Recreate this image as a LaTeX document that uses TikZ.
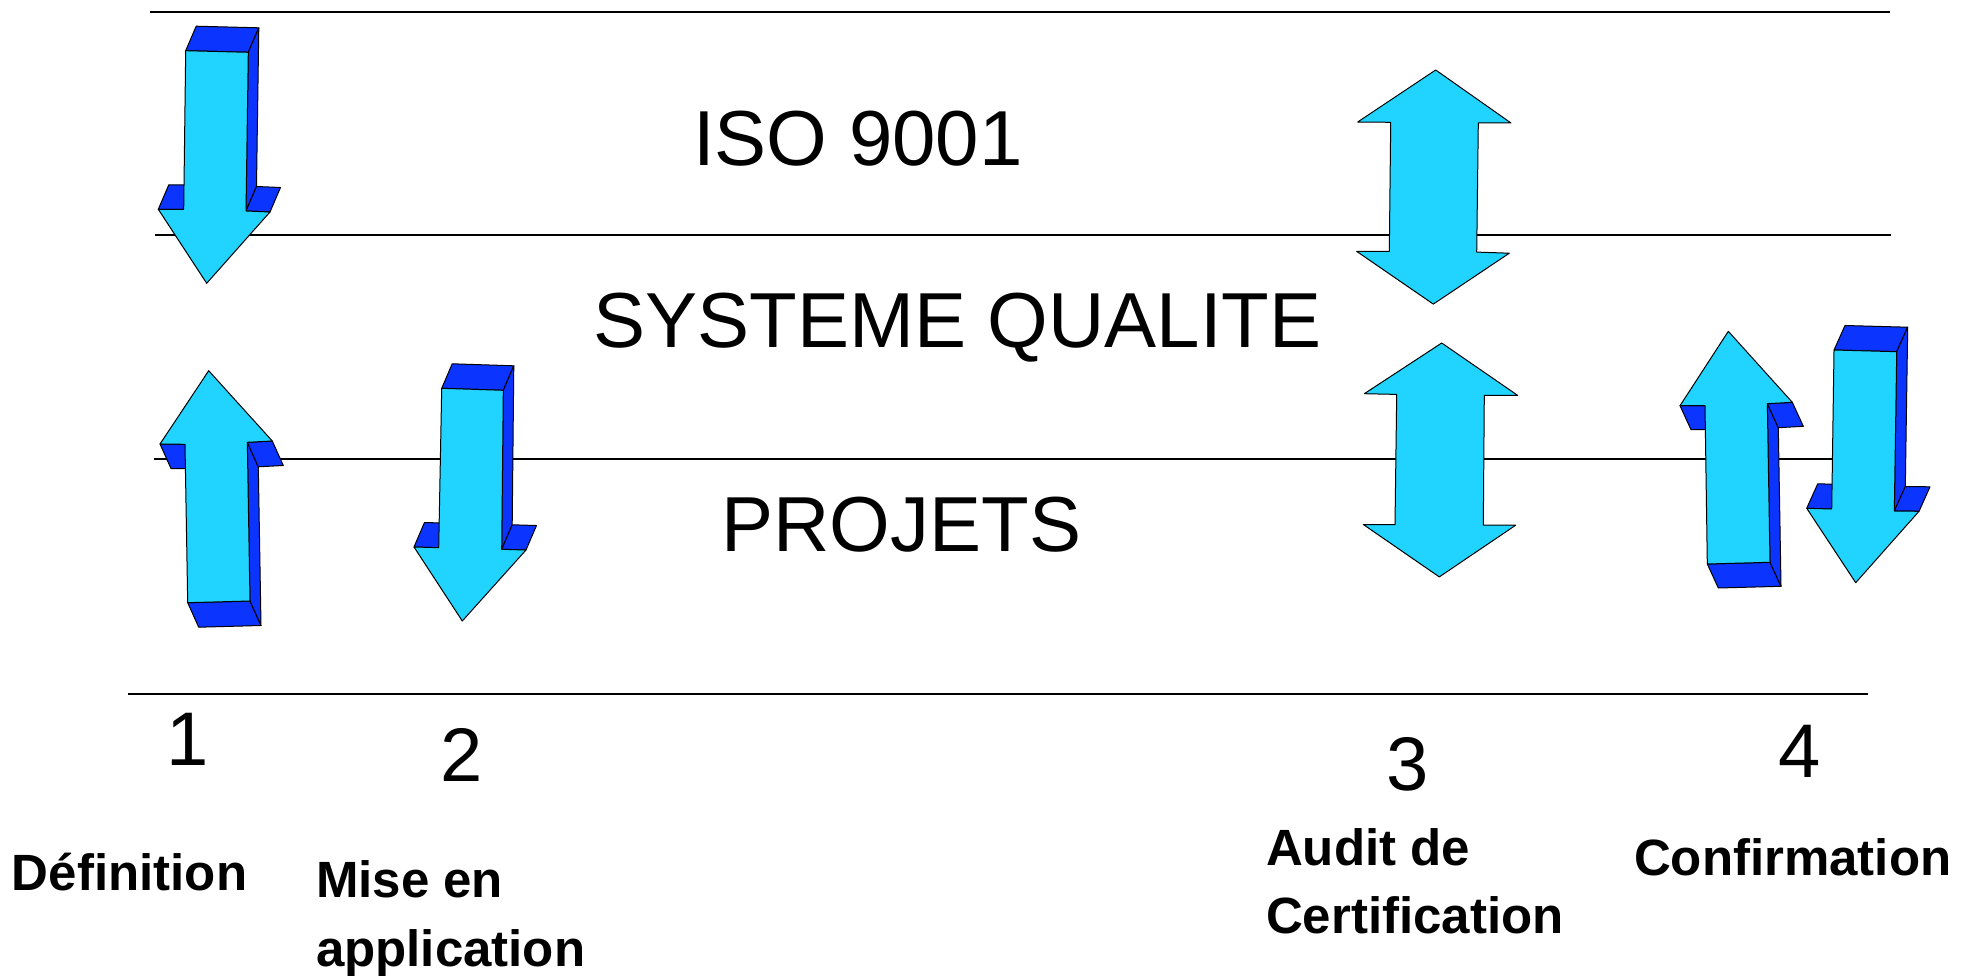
\documentclass[tikz,border=0pt]{standalone}
\usepackage{fontspec}
\setmainfont{Liberation Sans}
\usetikzlibrary{calc}
\definecolor{arrfront}{RGB}{32,212,255}
\definecolor{arrside}{RGB}{12,52,255}
% #1 shaft end left, #2 shaft end right, #3 shaft right at barb, #4 right barb,
% #5 tip, #6 left barb, #7 shaft left at barb, #8 depth offset
\newcommand\solidarrow[8]{%
  \coordinate (pA) at #1; \coordinate (pB) at #2; \coordinate (pC) at #3;
  \coordinate (pD) at #4; \coordinate (pE) at #5; \coordinate (pF) at #6;
  \coordinate (pG) at #7; \coordinate (po) at #8;
  \filldraw[sideface] (pA) -- (pB) -- ($(pB)+(po)$) -- ($(pA)+(po)$) -- cycle;
  \filldraw[sideface] (pB) -- ($(pB)+(po)$) -- ($(pC)+(po)$) -- (pC) -- cycle;
  \filldraw[sideface] (pC) -- ($(pC)+(po)$) -- ($(pD)+(po)$) -- (pD) -- cycle;
  \filldraw[sideface] (pG) -- ($(pG)+(po)$) -- ($(pF)+(po)$) -- (pF) -- cycle;
  \filldraw[face] (pA) -- (pB) -- (pC) -- (pD) -- (pE) -- (pF) -- (pG) -- cycle;
}
\begin{document}
\begin{tikzpicture}[x=1pt,y=-1pt,
  face/.style={fill=arrfront,draw=black,line width=1pt,line join=round},
  sideface/.style={fill=arrside,draw=black,line width=1pt,line join=round},
  rule/.style={line width=2pt},
  big/.style={font=\fontsize{78}{80}\selectfont,inner sep=0pt,outer sep=0pt,anchor=base},
  num/.style={font=\fontsize{76}{80}\selectfont,inner sep=0pt,outer sep=0pt,anchor=base},
  lbl/.style={font=\bfseries\fontsize{51}{60}\selectfont,inner sep=0pt,outer sep=0pt,anchor=base west}]
\useasboundingbox (0,0) rectangle (1964,976);
\fill[white] (0,0) rectangle (1964,976);

% horizontal rules
\coordinate (r1a) at (150,12.5);  \coordinate (r1b) at (1890,12.5);
\coordinate (r2a) at (155,235);   \coordinate (r2b) at (1891,235);
\coordinate (r3a) at (154,459);   \coordinate (r3b) at (1891,459);
\coordinate (r4a) at (128,694);   \coordinate (r4b) at (1868,694);
\draw[rule] (r1a) -- (r1b);
\draw[rule] (r2a) -- (r2b);
\draw[rule] (r3a) -- (r3b);
\draw[rule] (r4a) -- (r4b);

% arrow 1 down
\solidarrow{(185.7,50.7)}{(248.3,52.3)}{(246,211)}{(270,212)}{(206.7,283.3)}{(158.3,209.3)}{(183.7,209.3)}{(10.5,-24.5)}
% arrow 1 up
\solidarrow{(187.7,602.7)}{(250,601)}{(247.3,442.3)}{(272.3,441)}{(208.7,370.7)}{(160,444)}{(185,444.3)}{(11,24.5)}
% arrow 2 down
\solidarrow{(441.7,388.3)}{(503.3,390.3)}{(501.7,549.3)}{(526,550)}{(462.3,621)}{(414,547)}{(438.7,547.7)}{(10.5,-24.5)}
% arrow 4 up
\solidarrow{(1707.3,564)}{(1770,562.3)}{(1767.3,403.7)}{(1792.3,402.3)}{(1728.3,331.3)}{(1680,405.7)}{(1705,405.7)}{(11,24)}
% arrow 4 down
\solidarrow{(1834,350)}{(1896.7,351.7)}{(1894.3,511)}{(1919,511.3)}{(1855.7,582.7)}{(1806.7,508.3)}{(1831.7,509)}{(11,-24.5)}

% double arrows (audit)
\filldraw[face] (1435.7,70) -- (1511,123) -- (1478.3,123) -- (1476.7,252.1) -- (1509.3,253.2)
  -- (1433.3,304.1) -- (1356.7,251.4) -- (1389.3,251.4) -- (1390.7,122.3) -- (1357.7,122) -- cycle;
\filldraw[face] (1441.7,343) -- (1517.7,395.4) -- (1484.3,395.4) -- (1483.3,525.2) -- (1515.7,525.2)
  -- (1439.3,576.9) -- (1363.3,524.5) -- (1395,524.5) -- (1396.7,394.4) -- (1364.3,393.7) -- cycle;

% band titles
\node[big] (iso) at (858,166) {ISO 9001};
\node[big] (sq) at (957.5,347) {SYSTEME QUALITE};
\node[big] (proj) at (901.5,551) {PROJETS};

% step numbers
\node[num] (n1) at (188,765) {1};
\node[num] (n2) at (462,781.7) {2};
\node[num] (n3) at (1408,790) {3};
\node[num] (n4) at (1800,777) {4};

% step labels
\node[lbl] (l1) at (12,890) {Définition};
\node[lbl] (l2a) at (316,897) {Mise en};
\node[lbl] (l2b) at (316,966) {application};
\node[lbl] (l3a) at (1266,865) {Audit de};
\node[lbl] (l3b) at (1266,933) {Certification};
\node[lbl] (l4) at (1634,875) {Confirmation};
\end{tikzpicture}
\end{document}
